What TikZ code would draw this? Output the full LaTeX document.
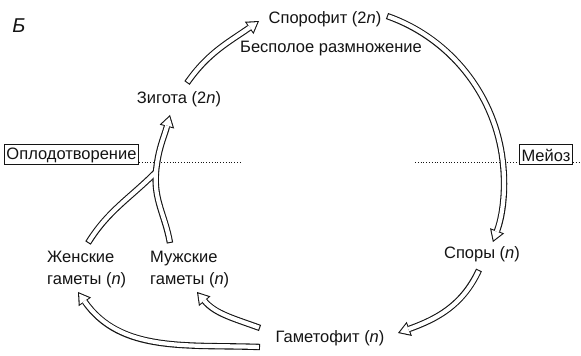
\documentclass[tikz,border=0pt]{standalone}
\usepackage{fontspec}
\setmainfont{Liberation Sans}
\usetikzlibrary{arrows.meta,positioning,calc}
\definecolor{Ink}{HTML}{141414}
\definecolor{Paper}{HTML}{FFFFFF}
\tikzset{stage/.style={text=Ink,inner sep=1pt,align=left,font=\fontsize{16.5}{22}\selectfont},event/.style={draw=Ink,line width=1pt,fill=Paper,text=Ink,inner xsep=2pt,inner ysep=0pt,minimum height=20pt,font=\fontsize{16.5}{18}\selectfont},guide/.style={draw=Ink,line width=0.8pt,dotted},rimout/.style={draw=Ink,line width=6.4pt,-{Triangle[length=12pt,width=15pt,line width=0pt 0 0]}},rimin/.style={draw=Paper,line width=4.2pt,shorten <=1.1pt,shorten >=2pt,-{Triangle[length=9pt,width=11.2pt,line width=0pt 0 0]}},lifearrow/.style={rimin,preaction={rimout,shorten <=0pt,shorten >=0pt}}}
\begin{document}
\begin{tikzpicture}[x=1pt,y=1pt]
\fill[Paper] (0,0) rectangle (581,356);\useasboundingbox (0,0) rectangle (581,356);
\node[text=Ink,font=\fontsize{20}{22}\selectfont\itshape] (panel) at (19,330) {Б};
\node[stage] (spor) at (325,337) {Спорофит (2\textit{n})};
\node[stage] (asex) at (331,307) {Бесполое размножение};
\node[stage] (zyg) at (179,257) {Зигота (2\textit{n})};
\node[event] (fert) at (71.5,201) {Оплодотворение};
\node[event] (meio) at (546,201) {Мейоз};
\node[stage] (spo) at (482,102) {Споры (\textit{n})};
\node[stage] (gam) at (330,18) {Гаметофит (\textit{n})};
\node[stage,anchor=west] (fem) at (46,86.5) {Женские\\гаметы (\textit{n})};
\node[stage,anchor=west] (male) at (149,86.5) {Мужские\\гаметы (\textit{n})};
% ends of the cycle arrows
\coordinate (zyg-out) at (187,273);\coordinate (spor-in) at (259,335);
\coordinate (spor-out) at (387,340);
\coordinate (spo-out) at (479,86);\coordinate (gam-in) at (398,23);
\coordinate (gam-m) at (260,28);\coordinate (male-in) at (197,64);
\coordinate (gam-f) at (260,9);\coordinate (fem-in) at (78,64);
\coordinate (fem-out) at (88,113);\coordinate (male-out) at (170,113);
\coordinate (merge) at (156,184);\coordinate (zyg-in) at (170,241);
% dotted guides
\draw[guide] ([yshift=-7pt]fert.east) -- (240,194);
\draw[guide] (415,194) -- ([yshift=-7pt]meio.west);
\draw[guide] ([yshift=-7pt]meio.east) -- (581,194);
% cycle
\draw[lifearrow] (zyg-out) to[out=55,in=215] (spor-in);
\draw[lifearrow] (spor-out) arc[start angle=70.6,end angle=-20.4,radius=175];
\draw[lifearrow] (spo-out) to[out=245,in=20] (gam-in);
\draw[lifearrow] (gam-m) to[out=160,in=-50] (male-in);
\draw[lifearrow] (gam-f) to[out=178,in=-55] (fem-in);
\draw[rimout] (male-out) to[out=100,in=265] (merge) to[out=85,in=255] (zyg-in);
\draw[rimout,-] (fem-out) to[out=58,in=225] (merge);
\draw[rimin] (male-out) to[out=100,in=265] (merge) to[out=85,in=255] (zyg-in);
\draw[rimin,-,shorten >=0pt] (fem-out) to[out=58,in=225] (merge);
\end{tikzpicture}
\end{document}
